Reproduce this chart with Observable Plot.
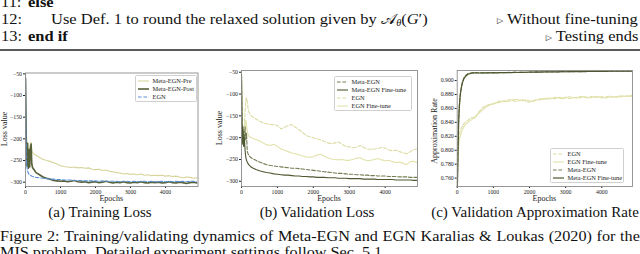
<!DOCTYPE html>
<html><head><meta charset="utf-8">
<script src="https://cdn.jsdelivr.net/npm/d3@7"></script>
<script src="https://cdn.jsdelivr.net/npm/@observablehq/plot@0.6"></script>
<style>
html,body{margin:0;padding:0;background:#fff;}
#root{position:relative;width:640px;height:254px;overflow:hidden;font-family:"Liberation Serif",serif;color:#111;background:#fff;}
.abs{position:absolute;white-space:nowrap;}
.algo{font-size:15.2px;line-height:17px;transform:scaleX(1.085);transform-origin:left center;}
.algo.r{transform-origin:right center;}
.tri{font-family:"DejaVu Sans",sans-serif;font-size:7.5px;vertical-align:1px;}
.sub{font-size:15px;line-height:16px;transform:translateX(-50%);}
.cap{font-size:14.4px;line-height:16px;left:0;transform:scaleX(1.125);transform-origin:left center;}
.axlab{position:absolute;font-size:8px;line-height:8px;white-space:nowrap;color:#222;transform:translate(-50%,-50%);}
.axlab.rot{transform:translate(-50%,-50%) rotate(-90deg);}
.legend{position:absolute;background:rgba(255,255,255,0.85);border:0.7px solid #cfcfcf;border-radius:1.5px;font-size:6.4px;line-height:8px;padding:0.5px 0 0.5px 2px;box-sizing:border-box;white-space:nowrap;color:#222;}
.legend .row{display:flex;align-items:center;height:8px;}
.legend svg{margin-right:3.5px;flex:none;}
</style></head>
<body><div id="root">
  <div class="abs algo" style="left:1px;top:-7px">11:</div>
  <div class="abs algo" style="left:28px;top:-7px"><b>else</b></div>
  <div class="abs algo" style="left:1px;top:10px">12:</div>
  <div class="abs algo" style="left:51px;top:10px">Use Def. 1 to round the relaxed solution given by 𝒜<sub style="font-size:9.5px;vertical-align:-2px"><i>θ</i></sub>(<i>G</i>′)</div>
  <div class="abs algo r" style="right:2px;top:10px"><span class="tri">▷</span> Without fine-tuning</div>
  <div class="abs algo" style="left:1px;top:27px">13:</div>
  <div class="abs algo" style="left:28px;top:27px"><b>end if</b></div>
  <div class="abs algo r" style="right:2px;top:27px"><span class="tri">▷</span> Testing ends</div>
  <div class="abs" style="left:0;top:49px;width:640px;height:2px;background:#5a5a5a"></div>
  <div class="abs sub" style="left:100px;top:204px">(a) Training Loss</div>
  <div class="abs sub" style="left:317px;top:204px">(b) Validation Loss</div>
  <div class="abs sub" style="left:535px;top:204px">(c) Validation Approximation Rate</div>
  <div class="abs cap" style="top:228px;width:568.8px;text-align:justify;text-align-last:justify;white-space:normal">Figure 2: Training/validating dynamics of Meta-EGN and EGN Karalias &amp; Loukas (2020) for the</div>
  <div class="abs cap" style="top:244px">MIS problem. Detailed experiment settings follow Sec. 5.1.</div>
</div>
<script>
// ---------------- data ----------------
const epochs = [0,20,40,60,80,100,120,140,160,180,200,250,300,
  400,500,600,700,800,900,1000,1100,1200,1300,1400,1500,1600,1700,1800,1900,2000,
  2100,2200,2300,2400,2500,2600,2700,2800,2900,3000,3100,3200,3300,3400,3500,3600,3700,3800,3900,4000,
  4100,4200,4300,4400,4500,4600,4700,4800,4900];

// (a) training loss
const trainPre = [-55,-180,-215,-225,-230,-222,-228,-212,-208,-225,-232,-236,-238,
  -243,-247,-250,-252,-255,-258,-262,-264,-265,-266,-265,-267,-266,-268,-267,-270,-271,
  -270,-273,-272,-275,-276,-278,-279,-281,-280,-282,-281,-283,-281,-284,-283,-285,-284,-285,-284,-286,
  -285,-287,-286,-288,-290,-288,-289,-291,-290];
const trainPost = [-60,-195,-262,-210,-268,-225,-265,-222,-212,-258,-266,-272,-278,
  -283,-288,-291,-293,-296,-297,-298,-297,-299,-298,-296,-299,-300,-299,-301,-300,-299,
  -301,-300,-298,-300,-302,-300,-301,-299,-301,-302,-300,-301,-299,-301,-302,-300,-301,-300,-302,-301,
  -299,-301,-302,-300,-301,-303,-301,-300,-302];
const trainEGN = [-50,-240,-265,-274,-279,-282,-283,-284,-285,-286,-287,-288,-289,
  -290,-291,-292,-293,-293,-294,-294,-295,-295,-295,-296,-296,-296,-297,-297,-297,-297,
  -298,-297,-298,-298,-298,-298,-299,-298,-298,-299,-298,-299,-298,-298,-299,-298,-299,-299,-298,-299,
  -298,-299,-298,-299,-298,-299,-298,-298,-299];

// (b) validation loss
const valMeta = [-55,-200,-215,-185,-215,-175,-205,-190,-232,-236,-240,-245,-248,
  -252,-256,-259,-262,-264,-265,-266,-267,-268,-269,-270,-270,-271,-272,-273,-274,-275,
  -276,-277,-278,-279,-280,-281,-282,-282,-283,-284,-284,-285,-285,-286,-286,-287,-287,-288,-288,-288,
  -289,-289,-289,-290,-290,-290,-291,-291,-291];
const valMetaFT = [-55,-215,-175,-220,-200,-230,-245,-252,-256,-259,-262,-266,-269,
  -273,-276,-278,-280,-281,-283,-284,-285,-286,-286,-287,-288,-288,-289,-289,-290,-290,
  -291,-291,-291,-292,-292,-292,-293,-293,-293,-294,-294,-294,-294,-295,-295,-295,-295,-296,-296,-296,
  -296,-296,-297,-297,-297,-297,-297,-298,-298];
const valEGN = [-50,-150,-200,-190,-170,-140,-115,-108,-118,-132,-140,-148,-152,
  -157,-162,-166,-168,-170,-170,-172,-180,-176,-172,-170,-176,-182,-188,-195,-198,-200,
  -203,-205,-208,-212,-214,-212,-210,-215,-220,-221,-223,-222,-218,-222,-226,-227,-226,-225,-222,-224,
  -228,-230,-229,-232,-235,-237,-232,-227,-226];
const valEGNFT = [-55,-175,-210,-200,-185,-175,-160,-170,-185,-192,-196,-199,-201,
  -204,-207,-212,-216,-218,-215,-220,-226,-229,-232,-235,-237,-239,-242,-244,-245,-244,
  -240,-238,-242,-246,-249,-250,-251,-250,-252,-252,-250,-247,-246,-250,-253,-252,-250,-248,-251,-253,
  -252,-255,-257,-256,-259,-262,-255,-254,-258];

// (c) validation approximation rate
const appEGN = [0.745,0.805,0.815,0.822,0.826,0.830,0.832,0.834,0.836,0.837,0.839,0.841,0.843,
  0.847,0.846,0.855,0.861,0.864,0.866,0.867,0.869,0.871,0.870,0.872,0.873,0.870,0.871,0.873,0.870,0.869,
  0.871,0.873,0.872,0.874,0.873,0.875,0.874,0.876,0.875,0.876,0.874,0.876,0.875,0.877,0.876,0.875,0.877,0.876,0.877,0.875,
  0.876,0.878,0.876,0.877,0.876,0.878,0.877,0.879,0.878];
const appEGNFT = [0.745,0.790,0.805,0.815,0.820,0.823,0.826,0.829,0.831,0.833,0.835,0.838,0.840,
  0.844,0.849,0.853,0.858,0.862,0.865,0.866,0.868,0.869,0.871,0.870,0.871,0.873,0.872,0.871,0.872,0.871,
  0.870,0.872,0.874,0.873,0.875,0.874,0.876,0.875,0.874,0.875,0.877,0.875,0.876,0.875,0.877,0.876,0.875,0.877,0.876,0.877,
  0.875,0.876,0.877,0.876,0.878,0.877,0.878,0.877,0.879];
const appMeta = [0.730,0.800,0.845,0.866,0.878,0.886,0.892,0.897,0.900,0.903,0.905,0.908,0.910,
  0.9110,0.9115,0.9110,0.9112,0.9110,0.9115,0.9112,0.9113,0.9115,0.9112,0.9116,0.9115,0.9118,0.9116,0.9120,0.9118,0.9120,
  0.9122,0.9120,0.9124,0.9122,0.9125,0.9124,0.9126,0.9125,0.9127,0.9126,0.9128,0.9127,0.9130,0.9128,0.9130,0.9129,0.9131,0.9130,0.9132,0.9131,
  0.9133,0.9132,0.9133,0.9134,0.9133,0.9135,0.9134,0.9135,0.9136];
const appMetaFT = [0.730,0.790,0.840,0.862,0.876,0.885,0.891,0.896,0.899,0.902,0.904,0.907,0.909,
  0.9105,0.9110,0.9108,0.9110,0.9112,0.9110,0.9113,0.9111,0.9114,0.9113,0.9115,0.9114,0.9117,0.9115,0.9118,0.9119,0.9121,
  0.9120,0.9123,0.9121,0.9124,0.9123,0.9125,0.9126,0.9124,0.9127,0.9126,0.9128,0.9129,0.9128,0.9130,0.9129,0.9131,0.9130,0.9132,0.9131,0.9133,
  0.9132,0.9134,0.9133,0.9135,0.9134,0.9136,0.9135,0.9136,0.9137];

const xTicks = [0,1000,2000,3000,4000];
const lossTicks = [-300,-250,-200,-150,-100,-50];
const rateTicks = [0.76,0.78,0.80,0.82,0.84,0.86,0.88,0.90];

// ---------------- styles ----------------
const C = {
  pre: "#d6d49b", post: "#56613a", blue: "#5b8fd8",
  metaDash: "#737d52", metaSolid: "#4d5830",
  egnDash: "#dcdca4", egnSolid: "#e2e2ac"
};
const DASH = "3.6,1.8";

for (const [n, a] of Object.entries({trainPre,trainPost,trainEGN,valMeta,valMetaFT,valEGN,valEGNFT,appEGN,appEGNFT,appMeta,appMetaFT}))
  if (a.length !== epochs.length) throw new Error(n + " has " + a.length + " values, expected " + epochs.length);

const root = document.getElementById("root");
const minus = d => d < 0 ? "\u2212" + Math.abs(d) : String(d);

function addLabel(text, cx, cy, rot) {
  const el = document.createElement("div");
  el.className = "axlab" + (rot ? " rot" : "");
  el.textContent = text;
  el.style.left = cx + "px"; el.style.top = cy + "px";
  root.appendChild(el);
}

function panel(cfg) {
  const marks = cfg.series.map(s => Plot.line(epochs.map((e, i) => ({epoch: e, v: s.values[i]})), {
    x: "epoch", y: "v", stroke: s.color, strokeWidth: s.width, strokeDasharray: s.dash || null, clip: true
  }));
  marks.push(Plot.frame({stroke: "#8c8c8c", strokeWidth: 0.9}));
  const svg = Plot.plot({
    width: 640, height: 254,
    marginLeft: cfg.m[0], marginRight: 640 - cfg.m[1], marginTop: cfg.m[2], marginBottom: 254 - cfg.m[3],
    style: {background: "transparent", fontFamily: "'Liberation Serif', serif", fontSize: "5.8px", color: "#222", overflow: "visible"},
    x: {domain: cfg.xDomain, ticks: xTicks, tickSize: 2, tickPadding: 1, label: null, tickFormat: d => String(d)},
    y: {domain: cfg.yDomain, ticks: cfg.yTicks, tickSize: 2, tickPadding: 1.5, label: null, tickFormat: cfg.yFormat},
    marks
  });
  svg.style.position = "absolute"; svg.style.left = "0px"; svg.style.top = "0px";
  root.appendChild(svg);

  addLabel("Epochs", (cfg.m[0] + cfg.m[1]) / 2, 198.8, false);
  addLabel(cfg.yLabel, cfg.yLabelX, cfg.yLabelY, true);

  const lg = document.createElement("div");
  lg.className = "legend";
  Object.assign(lg.style, {left: cfg.legend[0] + "px", top: cfg.legend[1] + "px", width: cfg.legend[2] + "px"});
  for (const s of cfg.series.slice().sort((a, b) => a.order - b.order)) {
    const row = document.createElement("div"); row.className = "row";
    row.innerHTML = `<svg width="11" height="6"><line x1="0" x2="11" y1="3" y2="3" stroke="${s.color}" stroke-width="${s.width}" ${s.dash ? `stroke-dasharray="${s.dash}"` : ""}/></svg><span>${s.name}</span>`;
    lg.appendChild(row);
  }
  root.appendChild(lg);
}

panel({
  m: [25, 197.5, 72.5, 186], xDomain: [0, 4930], yDomain: [-310, -48],
  yTicks: lossTicks, yFormat: minus, yLabel: "Loss value", yLabelX: 5, yLabelY: 129,
  legend: [135, 75, 62],
  series: [
    {name: "Meta-EGN-Pre", values: trainPre, color: C.pre, width: 1.1, order: 0},
    {name: "Meta-EGN-Post", values: trainPost, color: C.post, width: 1.6, order: 1},
    {name: "EGN", values: trainEGN, color: C.blue, width: 1.1, dash: DASH, order: 2}
  ]
});
panel({
  m: [241, 417, 70, 186], xDomain: [0, 4900], yDomain: [-312, -46],
  yTicks: lossTicks, yFormat: minus, yLabel: "Loss value", yLabelX: 220, yLabelY: 128,
  legend: [334, 76, 78],
  series: [
    {name: "EGN", values: valEGN, color: C.egnDash, width: 1.1, dash: DASH, order: 2},
    {name: "EGN Fine-tune", values: valEGNFT, color: C.egnSolid, width: 1.1, order: 3},
    {name: "Meta-EGN", values: valMeta, color: C.metaDash, width: 1.1, dash: DASH, order: 0},
    {name: "Meta-EGN Fine-tune", values: valMetaFT, color: C.metaSolid, width: 1.1, order: 1}
  ]
});
panel({
  m: [456.7, 632, 70, 186], xDomain: [0, 4850], yDomain: [0.748, 0.9144],
  yTicks: rateTicks, yFormat: d3.format(".3f"), yLabel: "Approximation Rate", yLabelX: 435, yLabelY: 131,
  legend: [550, 148, 74],
  series: [
    {name: "EGN", values: appEGN, color: C.egnDash, width: 1.1, dash: DASH, order: 0},
    {name: "EGN Fine-tune", values: appEGNFT, color: C.egnSolid, width: 1.1, order: 1},
    {name: "Meta-EGN", values: appMeta, color: C.metaDash, width: 1.2, dash: DASH, order: 2},
    {name: "Meta-EGN Fine-tune", values: appMetaFT, color: C.metaSolid, width: 1.2, order: 3}
  ]
});
</script>
</body></html>
